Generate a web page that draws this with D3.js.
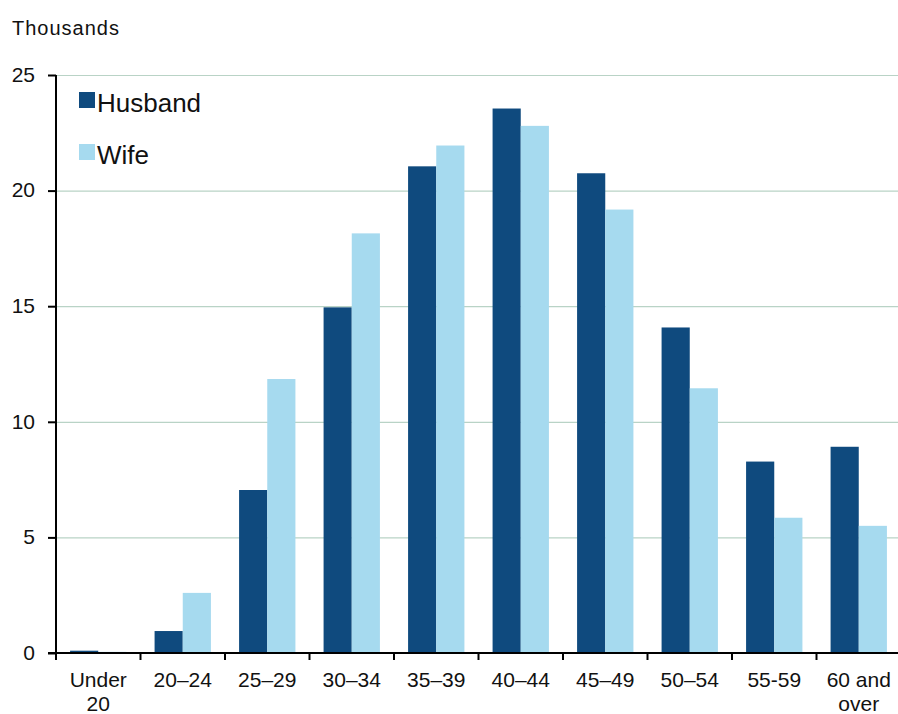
<!DOCTYPE html>
<html>
<head>
<meta charset="utf-8">
<script src="https://cdn.jsdelivr.net/npm/d3@7"></script>
<style>
  body { margin: 0; background: #fff; }
  svg text { font-family: "Liberation Sans", Arial, sans-serif; fill: #111; }
  .grid line { stroke: #b9d3c6; stroke-width: 1.2; }
  .grid .domain { display: none; }
</style>
</head>
<body>
<div id="main"></div>
<script>
const categories = [['Under', '20'], ['20–24'], ['25–29'], ['30–34'], ['35–39'], ['40–44'], ['45–49'], ['50–54'], ['55-59'], ['60 and', 'over']];
const seriesNames = ['Husband', 'Wife'];
const husband = [0.1, 0.95, 7.05, 14.95, 21.05, 23.55, 20.75, 14.08, 8.28, 8.92];
const wife = [0.05, 2.6, 11.85, 18.15, 21.95, 22.8, 19.18, 11.45, 5.85, 5.5];
const yTicks = [0, 5, 10, 15, 20, 25];
const colors = ['#0f4a7e', '#a6daef'];

const width = 898;
const height = 714;
const margin = {top: 75, right: -3, bottom: 61, left: 56};

const svg = d3.select('#main')
  .append('svg')
  .attr('width', width)
  .attr('height', height);

const keys = categories.map((d) => d.join(' '));
const rows = keys.map((k, i) => ({key: k, values: [husband[i], wife[i]]}));

const x0 = d3.scaleBand()
  .domain(keys)
  .range([margin.left, width - margin.right])
  .padding(0);

const x1 = d3.scaleBand()
  .domain(seriesNames)
  .range([0, x0.bandwidth()])
  .paddingInner(0)
  .paddingOuter(0.5);

const y = d3.scaleLinear()
  .domain([0, 25])
  .range([height - margin.bottom, margin.top]);

// gridlines
svg.append('g')
  .attr('class', 'grid')
  .attr('transform', `translate(${margin.left},0)`)
  .call(d3.axisLeft(y).tickValues(yTicks.slice(1)).tickSize(-(width - margin.left)).tickFormat(''));

// bars
svg.append('g')
  .selectAll('g')
  .data(rows)
  .enter()
  .append('g')
  .attr('transform', (d) => `translate(${x0(d.key)},0)`)
  .selectAll('rect')
  .data((d) => d.values.map((v, i) => ({name: seriesNames[i], value: v})))
  .enter()
  .append('rect')
  .attr('x', (d) => x1(d.name))
  .attr('y', (d) => y(d.value))
  .attr('width', x1.bandwidth())
  .attr('height', (d) => y(0) - y(d.value))
  .style('fill', (d, i) => colors[i]);

// y axis
const yAxis = svg.append('g')
  .attr('transform', `translate(${margin.left},0)`)
  .call(d3.axisLeft(y).tickValues(yTicks).tickSize(8).tickPadding(13).tickFormat(d3.format('d')));
yAxis.select('.domain').attr('stroke', '#000').attr('stroke-width', 2).attr('d', `M0,${y(25)}V${y(0)}`);
yAxis.selectAll('.tick line').attr('stroke', '#000').attr('stroke-width', 2);
yAxis.selectAll('.tick text').style('font-size', '21px').attr('dy', '0.3em');

// x axis
const xAxis = svg.append('g')
  .attr('transform', `translate(0,${y(0)})`);
xAxis.append('line')
  .attr('x1', margin.left - 8)
  .attr('x2', width)
  .attr('stroke', '#000')
  .attr('stroke-width', 2);
xAxis.selectAll('.xtick')
  .data(keys)
  .enter()
  .append('line')
  .attr('x1', (d) => x0(d))
  .attr('x2', (d) => x0(d))
  .attr('y1', 0)
  .attr('y2', 7)
  .attr('stroke', '#000')
  .attr('stroke-width', 2);
xAxis.selectAll('.xlabel')
  .data(categories)
  .enter()
  .append('text')
  .attr('text-anchor', 'middle')
  .style('font-size', '21px')
  .attr('transform', (d, i) => `translate(${x0(keys[i]) + x0.bandwidth() / 2},34)`)
  .selectAll('tspan')
  .data((d) => d)
  .enter()
  .append('tspan')
  .attr('x', 0)
  .attr('dy', (d, i) => i === 0 ? 0 : 24)
  .text((d) => d);

// y title
svg.append('text')
  .attr('x', 12)
  .attr('y', 35)
  .style('font-size', '20px')
  .style('letter-spacing', '1px')
  .text('Thousands');

// legend
const legend = svg.append('g').attr('id', 'legend');
seriesNames.forEach((name, i) => {
  const g = legend.append('g').attr('transform', `translate(79,${92 + i * 52})`);
  g.append('rect').attr('width', 16).attr('height', 16).style('fill', colors[i]);
  g.append('text').attr('x', 18).attr('y', 20).style('font-size', '26px').text(name);
});
</script>
</body>
</html>
